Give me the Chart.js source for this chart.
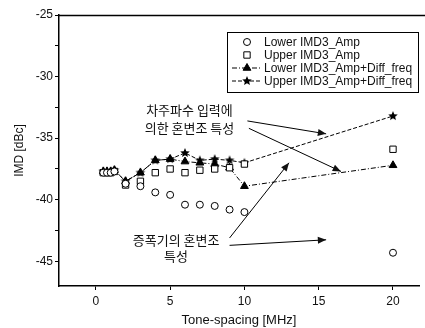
<!DOCTYPE html>
<html>
<head>
<meta charset="utf-8">
<script src="https://cdn.jsdelivr.net/npm/chart.js@4"></script>
<style>
  body { margin: 0; background: #fff; }
  #wrap { width: 425px; height: 328px; }
</style>
</head>
<body>
<div id="wrap"><canvas id="imdPlot" width="425" height="328"></canvas></div>
<script>
// tone spacing in MHz
var toneSpacing = [0.5, 0.75, 1, 1.25, 2, 3, 4, 5, 6, 7, 8, 9, 10, 20];
var lowerAmp = [-37.8, -37.8, -37.8, -37.7, -38.7, -38.9, -39.4, -39.6, -40.4, -40.4, -40.5, -40.8, -41.0, -44.3];
var upperAmp = [-37.8, -37.8, -37.8, -37.7, -38.8, -38.5, -37.8, -37.5, -37.8, -37.6, -37.5, -37.4, -37.1, -35.9];
var lowerDiff = [-37.7, -37.7, -37.7, -37.6, -38.5, -37.8, -36.8, -36.7, -36.9, -37.0, -37.1, -37.4, -38.9, -37.2];
var upperDiff = [-37.7, -37.7, -37.7, -37.6, -38.5, -37.8, -36.8, -36.7, -36.2, -36.8, -36.7, -36.8, -37.0, -33.2];
var seriesNames = ["Lower IMD3_Amp", "Upper IMD3_Amp", "Lower IMD3_Amp+Diff_freq", "Upper IMD3_Amp+Diff_freq"];
var xTicks = [0, 5, 10, 15, 20];
var yTicks = [-45, -42.5, -40, -37.5, -35, -32.5, -30, -27.5, -25];

var font = "'Liberation Sans', Arial, sans-serif";
var krFont = "'Noto Sans CJK KR', sans-serif";

function toPoints(ys) {
  var pts = [];
  for (var i = 0; i < toneSpacing.length; i++) {
    pts.push({x: toneSpacing[i], y: ys[i]});
  }
  return pts;
}

// filled star marker
function makeStar(r) {
  var c = document.createElement('canvas');
  c.width = r * 2 + 2; c.height = r * 2 + 2;
  var g = c.getContext('2d');
  g.translate(r + 1, r + 1);
  g.beginPath();
  for (var i = 0; i < 10; i++) {
    var rad = i % 2 === 0 ? r : r * 0.45;
    var a = -Math.PI / 2 + i * Math.PI / 5;
    g.lineTo(rad * Math.cos(a), rad * Math.sin(a));
  }
  g.closePath();
  g.fillStyle = '#000';
  g.fill();
  return c;
}
var starImg = makeStar(5);

// text + arrows, given in data coordinates
var notes = [
  {text: "차주파수 입력에", x: 6.3, y: -32.7},
  {text: "의한 혼변조 특성", x: 6.3, y: -34.2},
  {text: "증폭기의 혼변조", x: 5.4, y: -43.25},
  {text: "특성", x: 5.4, y: -44.6}
];
var arrows = [
  [10.2, -33.6, 15.5, -34.65],
  [10.3, -34.2, 16.5, -37.7],
  [9.0, -43.1, 13.0, -37.0],
  [9.0, -43.7, 15.5, -43.25]
];

var extras = {
  id: 'extras',
  afterDraw: function(chart) {
    var ctx = chart.ctx;
    var xs = chart.scales.x, ys = chart.scales.y;
    var area = chart.chartArea;
    ctx.save();
    // top frame line
    ctx.strokeStyle = '#000';
    ctx.lineWidth = 1.5;
    ctx.beginPath();
    ctx.moveTo(area.left, area.top + 0.5);
    ctx.lineTo(425, area.top + 0.5);
    ctx.stroke();

    // annotations
    ctx.fillStyle = '#111';
    ctx.font = '13px ' + krFont;
    ctx.textAlign = 'center';
    ctx.textBaseline = 'middle';
    notes.forEach(function(n) {
      ctx.fillText(n.text, xs.getPixelForValue(n.x), ys.getPixelForValue(n.y));
    });
    ctx.lineWidth = 1;
    arrows.forEach(function(a) {
      var x1 = xs.getPixelForValue(a[0]), y1 = ys.getPixelForValue(a[1]);
      var x2 = xs.getPixelForValue(a[2]), y2 = ys.getPixelForValue(a[3]);
      ctx.beginPath();
      ctx.moveTo(x1, y1);
      ctx.lineTo(x2, y2);
      ctx.stroke();
      var ang = Math.atan2(y2 - y1, x2 - x1);
      ctx.beginPath();
      ctx.moveTo(x2, y2);
      ctx.lineTo(x2 - 9 * Math.cos(ang - 0.4), y2 - 9 * Math.sin(ang - 0.4));
      ctx.lineTo(x2 - 9 * Math.cos(ang + 0.4), y2 - 9 * Math.sin(ang + 0.4));
      ctx.closePath();
      ctx.fill();
    });

    // legend box
    var bx = 227, by = 32, bw = 191, bh = 60;
    ctx.fillStyle = '#fff';
    ctx.fillRect(bx, by, bw, bh);
    ctx.strokeStyle = '#000';
    ctx.lineWidth = 1;
    ctx.strokeRect(bx + 0.5, by + 0.5, bw, bh);
    var rows = [42, 55, 68, 81];
    ctx.font = '12px ' + font;
    ctx.textAlign = 'left';
    for (var i = 0; i < 4; i++) {
      var ds = chart.data.datasets[i];
      var cy = rows[i];
      if (ds.showLine) {
        ctx.setLineDash(ds.borderDash || []);
        ctx.beginPath();
        ctx.moveTo(232, cy);
        ctx.lineTo(262, cy);
        ctx.stroke();
        ctx.setLineDash([]);
      }
      ctx.fillStyle = ds.pointBackgroundColor;
      ctx.strokeStyle = '#000';
      Chart.helpers.drawPoint(ctx, {
        pointStyle: ds.pointStyle, radius: ds.pointRadius, borderWidth: 1, rotation: 0
      }, 247, cy);
      ctx.fillStyle = '#111';
      ctx.fillText(seriesNames[i], 264, cy + 1);
    }
    ctx.restore();
  }
};

var ctx = document.getElementById('imdPlot');
var chart = new Chart(ctx, {
  type: 'scatter',
  data: {
    datasets: [
      {label: seriesNames[0], data: toPoints(lowerAmp), showLine: false, pointStyle: 'circle',
       pointRadius: 3.5, borderColor: '#000', pointBackgroundColor: '#fff', pointBorderWidth: 1},
      {label: seriesNames[1], data: toPoints(upperAmp), showLine: false, pointStyle: 'rect',
       pointRadius: 4.5, borderColor: '#000', pointBackgroundColor: '#fff', pointBorderWidth: 1},
      {label: seriesNames[2], data: toPoints(lowerDiff), showLine: true, pointStyle: 'triangle',
       pointRadius: 4.5, borderColor: '#000', backgroundColor: '#000', pointBackgroundColor: '#000',
       borderWidth: 1, borderDash: [5, 2, 1, 2]},
      {label: seriesNames[3], data: toPoints(upperDiff), showLine: true, pointStyle: starImg,
       pointRadius: 5, borderColor: '#000', pointBackgroundColor: '#000',
       borderWidth: 1, borderDash: [4, 2]}
    ]
  },
  options: {
    responsive: false,
    animation: false,
    layout: {padding: {top: 15, right: 0, left: 0, bottom: 0}},
    plugins: {legend: {display: false}, tooltip: {enabled: false}},
    scales: {
      x: {
        type: 'linear', min: -2.48, max: 21.75,
        afterBuildTicks: function(axis) { axis.ticks = xTicks.map(function(v) { return {value: v}; }); },
        afterFit: function(axis) { axis.height = 42; },
        grid: {drawOnChartArea: false, tickLength: 4, color: '#000', tickColor: '#000'},
        border: {color: '#000', width: 1.5},
        ticks: {color: '#111', font: {family: font, size: 12}, padding: 4, maxRotation: 0},
        title: {display: true, text: 'Tone-spacing [MHz]', color: '#111',
                font: {family: font, size: 13}, padding: {top: 0, bottom: 0}}
      },
      y: {
        type: 'linear', min: -47, max: -25,
        afterBuildTicks: function(axis) { axis.ticks = yTicks.map(function(v) { return {value: v}; }); },
        afterFit: function(axis) { axis.width = 59; },
        grid: {drawOnChartArea: false, tickLength: 4, color: '#000', tickColor: '#000'},
        border: {color: '#000', width: 1.5},
        ticks: {color: '#111', font: {family: font, size: 12}, padding: 2,
                callback: function(v) { return v % 5 === 0 ? v : ''; }},
        title: {display: true, text: 'IMD [dBc]', color: '#111',
                font: {family: font, size: 12}, padding: {top: 12, bottom: 2}}
      }
    }
  },
  plugins: [extras]
});
</script>
</body>
</html>
